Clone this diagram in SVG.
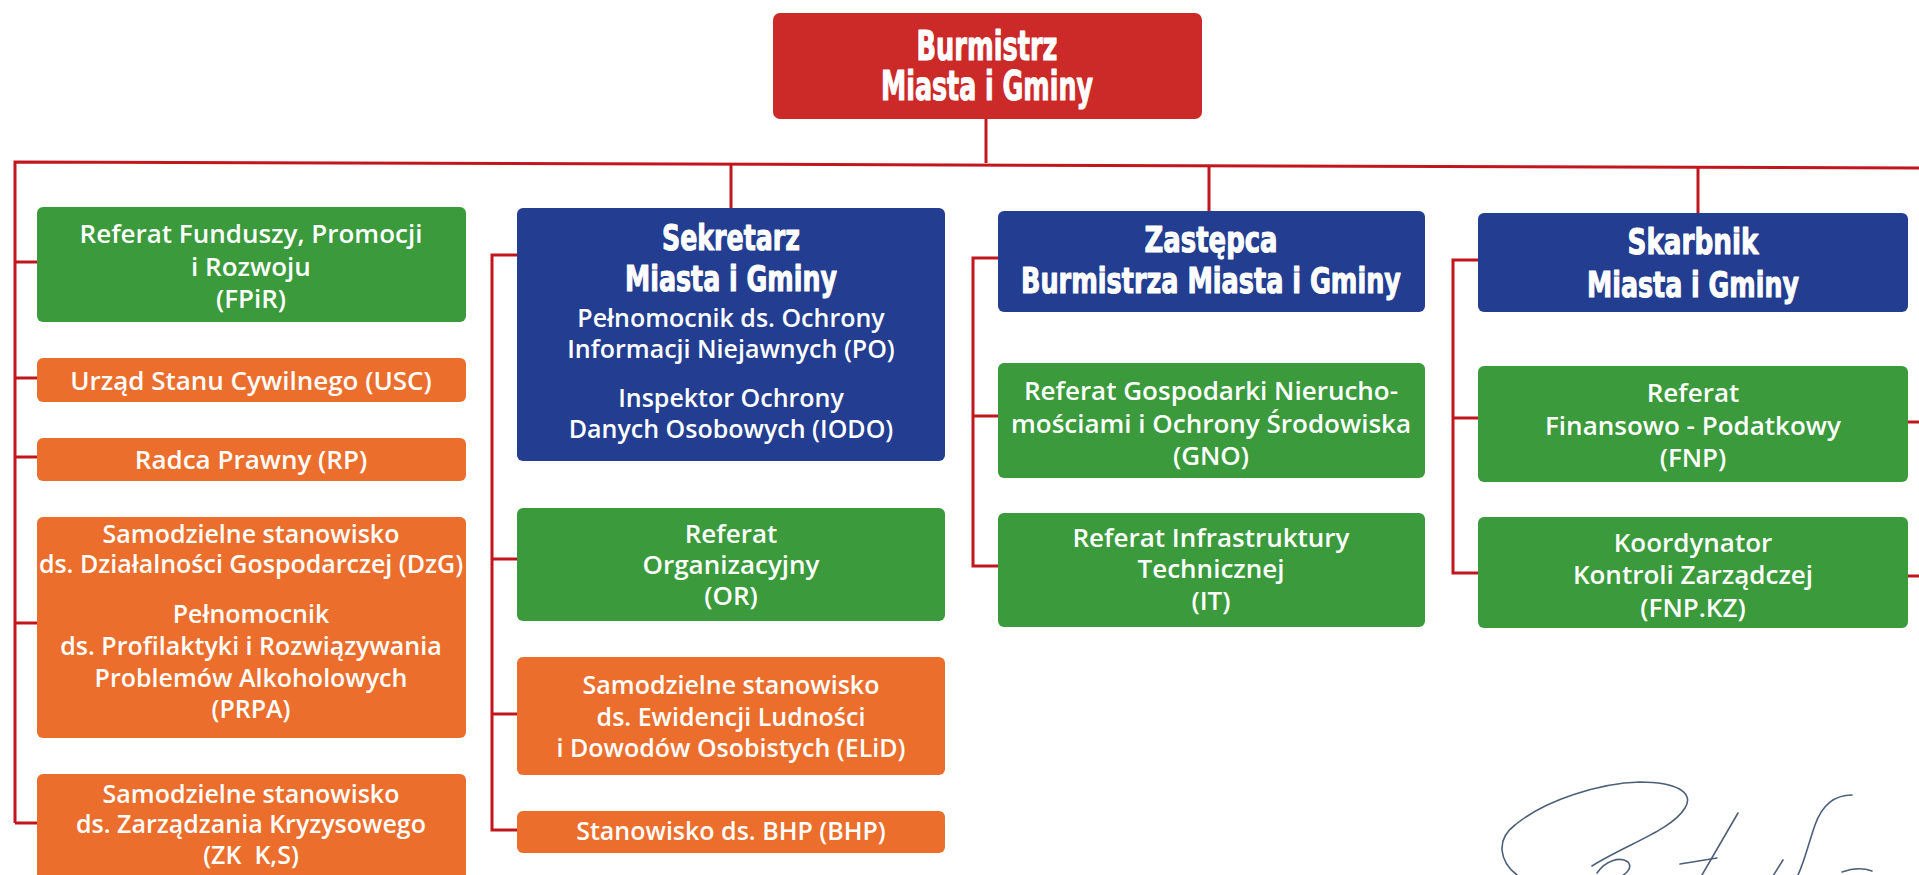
<svg xmlns="http://www.w3.org/2000/svg" width="1919" height="875" viewBox="0 0 1919 875">
<style>
.red{fill:#cc2a29}
.blue{fill:#233e90}
.green{fill:#3a9a3c}
.orange{fill:#ec6e2d}
.t{font-family:"Open Sans","Noto Sans","DejaVu Sans",sans-serif;font-size:25px;font-weight:600;fill:#fff;text-anchor:middle}
.b{font-size:26px}
.h{font-family:"Liberation Sans Narrow","DejaVu Sans Condensed","Liberation Sans",sans-serif;font-weight:bold;font-size:36px;fill:#fff;stroke:#fff;stroke-width:1;stroke-linejoin:round;text-anchor:middle}
.c{stroke:#c1161e;stroke-width:3;fill:none}
.sig{stroke:#4d6079;stroke-width:1.6;fill:none;stroke-linecap:round}
</style>
<rect width="1919" height="875" fill="#fff"/>
<g id="connectors">
<path class="c" d="M986,119 V163"/>
<path class="c" d="M15,823 V162 L1919,168"/>
<path class="c" d="M15,262 H37 M15,378 H37 M15,457 H37 M15,623 H37 M15,823 H37"/>
<path class="c" d="M731,163 V208"/>
<path class="c" d="M517,255 H492 V830 H517 M492,559 H517 M492,714 H517"/>
<path class="c" d="M1209,165 V211"/>
<path class="c" d="M998,258 H973 V566 H998 M973,416 H998"/>
<path class="c" d="M1698,167 V213"/>
<path class="c" d="M1478,260 H1453 V573 H1478 M1453,418 H1478"/>
<path class="c" d="M1908,422 H1919 M1908,576 H1919"/>
</g>
<g id="burmistrz">
<rect class="red" x="773" y="13" width="429" height="106" rx="7"/>
<text class="h" style="font-size:40px"><tspan x="987" y="60" textLength="141" lengthAdjust="spacingAndGlyphs">Burmistrz</tspan><tspan x="987" y="100" textLength="212" lengthAdjust="spacingAndGlyphs">Miasta i Gminy</tspan></text>
</g>
<g id="fpir">
<rect class="green" x="37" y="207" width="429" height="115" rx="6"/>
<text class="t b"><tspan x="251" y="243">Referat Funduszy, Promocji</tspan><tspan x="251" y="276">i Rozwoju</tspan><tspan x="251" y="308">(FPiR)</tspan></text>
</g>
<g id="usc">
<rect class="orange" x="37" y="358" width="429" height="44" rx="6"/>
<text class="t b" x="251" y="390">Urząd Stanu Cywilnego (USC)</text>
</g>
<g id="rp">
<rect class="orange" x="37" y="438" width="429" height="43" rx="6"/>
<text class="t b" x="251" y="469">Radca Prawny (RP)</text>
</g>
<g id="dzg">
<rect class="orange" x="37" y="517" width="429" height="221" rx="6"/>
<text class="t"><tspan x="251" y="543">Samodzielne stanowisko</tspan><tspan x="251" y="573">ds. Działalności Gospodarczej (DzG)</tspan><tspan x="251" y="623">Pełnomocnik</tspan><tspan x="251" y="655">ds. Profilaktyki i Rozwiązywania</tspan><tspan x="251" y="687">Problemów Alkoholowych</tspan><tspan x="251" y="718">(PRPA)</tspan></text>
</g>
<g id="zk">
<rect class="orange" x="37" y="774" width="429" height="115" rx="6"/>
<text class="t"><tspan x="251" y="803">Samodzielne stanowisko</tspan><tspan x="251" y="833">ds. Zarządzania Kryzysowego</tspan><tspan x="251" y="864">(ZK&#160; K,S)</tspan></text>
</g>
<g id="sekretarz">
<rect class="blue" x="517" y="208" width="428" height="253" rx="6"/>
<text class="h"><tspan x="731" y="250" textLength="138" lengthAdjust="spacingAndGlyphs">Sekretarz</tspan><tspan x="731" y="291" textLength="212" lengthAdjust="spacingAndGlyphs">Miasta i Gminy</tspan></text>
<text class="t"><tspan x="731" y="327">Pełnomocnik ds. Ochrony</tspan><tspan x="731" y="358">Informacji Niejawnych (PO)</tspan><tspan x="731" y="407">Inspektor Ochrony</tspan><tspan x="731" y="438">Danych Osobowych (IODO)</tspan></text>
</g>
<g id="or">
<rect class="green" x="517" y="508" width="428" height="113" rx="6"/>
<text class="t b"><tspan x="731" y="543">Referat</tspan><tspan x="731" y="574">Organizacyjny</tspan><tspan x="731" y="605">(OR)</tspan></text>
</g>
<g id="elid">
<rect class="orange" x="517" y="657" width="428" height="118" rx="6"/>
<text class="t"><tspan x="731" y="694">Samodzielne stanowisko</tspan><tspan x="731" y="726">ds. Ewidencji Ludności</tspan><tspan x="731" y="757">i Dowodów Osobistych (ELiD)</tspan></text>
</g>
<g id="bhp">
<rect class="orange" x="517" y="811" width="428" height="42" rx="6"/>
<text class="t" x="731" y="840">Stanowisko ds. BHP (BHP)</text>
</g>
<g id="zastepca">
<rect class="blue" x="998" y="211" width="427" height="101" rx="6"/>
<text class="h"><tspan x="1211" y="252" textLength="133" lengthAdjust="spacingAndGlyphs">Zastępca</tspan><tspan x="1211" y="293" textLength="380" lengthAdjust="spacingAndGlyphs">Burmistrza Miasta i Gminy</tspan></text>
</g>
<g id="gno">
<rect class="green" x="998" y="363" width="427" height="115" rx="6"/>
<text class="t b"><tspan x="1211" y="400">Referat Gospodarki Nierucho-</tspan><tspan x="1211" y="433">mościami i Ochrony Środowiska</tspan><tspan x="1211" y="465">(GNO)</tspan></text>
</g>
<g id="it">
<rect class="green" x="998" y="513" width="427" height="114" rx="6"/>
<text class="t b"><tspan x="1211" y="547">Referat Infrastruktury</tspan><tspan x="1211" y="578">Technicznej</tspan><tspan x="1211" y="610">(IT)</tspan></text>
</g>
<g id="skarbnik">
<rect class="blue" x="1478" y="213" width="430" height="99" rx="6"/>
<text class="h"><tspan x="1693" y="254" textLength="131" lengthAdjust="spacingAndGlyphs">Skarbnik</tspan><tspan x="1693" y="297" textLength="212" lengthAdjust="spacingAndGlyphs">Miasta i Gminy</tspan></text>
</g>
<g id="fnp">
<rect class="green" x="1478" y="366" width="430" height="116" rx="6"/>
<text class="t b"><tspan x="1693" y="402">Referat</tspan><tspan x="1693" y="435">Finansowo - Podatkowy</tspan><tspan x="1693" y="467">(FNP)</tspan></text>
</g>
<g id="kz">
<rect class="green" x="1478" y="517" width="430" height="111" rx="6"/>
<text class="t b"><tspan x="1693" y="552">Koordynator</tspan><tspan x="1693" y="584">Kontroli Zarządczej</tspan><tspan x="1693" y="617">(FNP.KZ)</tspan></text>
</g>
<g id="signature">
<path class="sig" d="M1517,875 C1500,862 1495,840 1515,825 C1545,800 1600,783 1640,782 C1675,782 1695,792 1685,808 C1672,830 1625,845 1592,866"/>
<path class="sig" d="M1738,813 L1702,875"/>
<path class="sig" d="M1597,873 C1605,861 1620,856 1628,862 C1633,868 1626,874 1620,877"/>
<path class="sig" d="M1680,864 L1717,858"/>
<path class="sig" d="M1783,860 L1773,876"/>
<path class="sig" d="M1852,795 C1835,795 1822,805 1815,825 C1808,845 1805,860 1798,875"/>
<path class="sig" d="M1842,872 C1853,868 1864,868 1872,871"/>
</g>
</svg>
